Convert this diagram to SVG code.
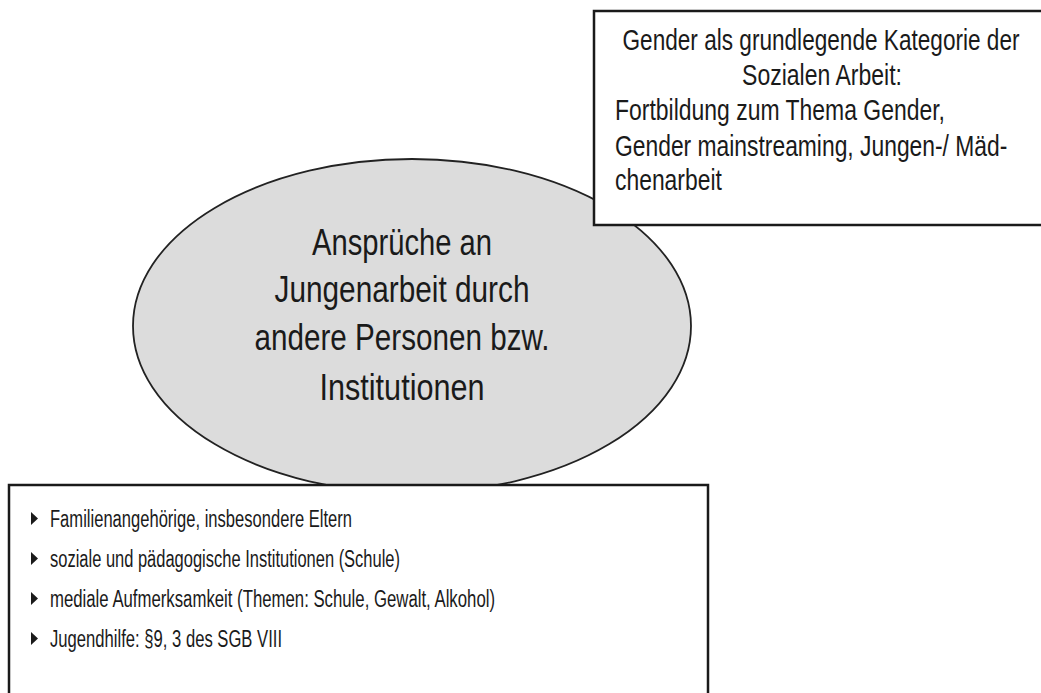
<svg xmlns="http://www.w3.org/2000/svg" width="1041" height="693" viewBox="0 0 1041 693">
<style>
.t{font-family:"Liberation Sans",Arial,sans-serif;fill:#1a1a1a}
.top{font-size:29px}
.ell{font-size:36px;text-anchor:middle}
.lst{font-size:23px}
.box{fill:#fff;stroke:#1a1a1a;stroke-width:2.5}
.bul{fill:#1a1a1a}
</style>
<rect width="1041" height="693" fill="#fff"/>
<g id="connectors"></g>
<g id="center">
<ellipse cx="412" cy="326" rx="279" ry="167" fill="#dcdcdc" stroke="#222" stroke-width="1.8"/>
<text class="t ell" x="402" y="255" textLength="180" lengthAdjust="spacingAndGlyphs">Ansprüche an</text>
<text class="t ell" x="402" y="302" textLength="255" lengthAdjust="spacingAndGlyphs">Jungenarbeit durch</text>
<text class="t ell" x="402" y="350" textLength="295" lengthAdjust="spacingAndGlyphs">andere Personen bzw.</text>
<text class="t ell" x="402" y="400" textLength="165" lengthAdjust="spacingAndGlyphs">Institutionen</text>
</g>
<g id="gender">
<rect class="box" x="594" y="11" width="460" height="214"/>
<text class="t top" transform="translate(821 50) scale(0.78 1)" text-anchor="middle" textLength="509" lengthAdjust="spacingAndGlyphs">Gender als grundlegende Kategorie der</text>
<text class="t top" transform="translate(822 85) scale(0.78 1)" text-anchor="middle" textLength="205" lengthAdjust="spacingAndGlyphs">Sozialen Arbeit:</text>
<text class="t top" transform="translate(615 120) scale(0.78 1)" textLength="423" lengthAdjust="spacingAndGlyphs">Fortbildung zum Thema Gender,</text>
<text class="t top" transform="translate(615 156) scale(0.78 1)" textLength="503" lengthAdjust="spacingAndGlyphs">Gender mainstreaming, Jungen-/ Mäd-</text>
<text class="t top" transform="translate(615 190) scale(0.78 1)" textLength="137" lengthAdjust="spacingAndGlyphs">chenarbeit</text>
</g>
<g id="list">
<rect class="box" x="9" y="485" width="699" height="220"/>
<path class="bul" d="M31,512 L38,518.5 L31,525 Z"/>
<text class="t lst" x="50" y="527" textLength="302" lengthAdjust="spacingAndGlyphs">Familienangehörige, insbesondere Eltern</text>
<path class="bul" d="M31,552 L38,558.5 L31,565 Z"/>
<text class="t lst" x="50" y="567" textLength="350" lengthAdjust="spacingAndGlyphs">soziale und pädagogische Institutionen (Schule)</text>
<path class="bul" d="M31,592 L38,598.5 L31,605 Z"/>
<text class="t lst" x="50" y="607" textLength="445" lengthAdjust="spacingAndGlyphs">mediale Aufmerksamkeit (Themen: Schule, Gewalt, Alkohol)</text>
<path class="bul" d="M31,632 L38,638.5 L31,645 Z"/>
<text class="t lst" x="50" y="647" textLength="232" lengthAdjust="spacingAndGlyphs">Jugendhilfe: §9, 3 des SGB VIII</text>
</g>
</svg>
